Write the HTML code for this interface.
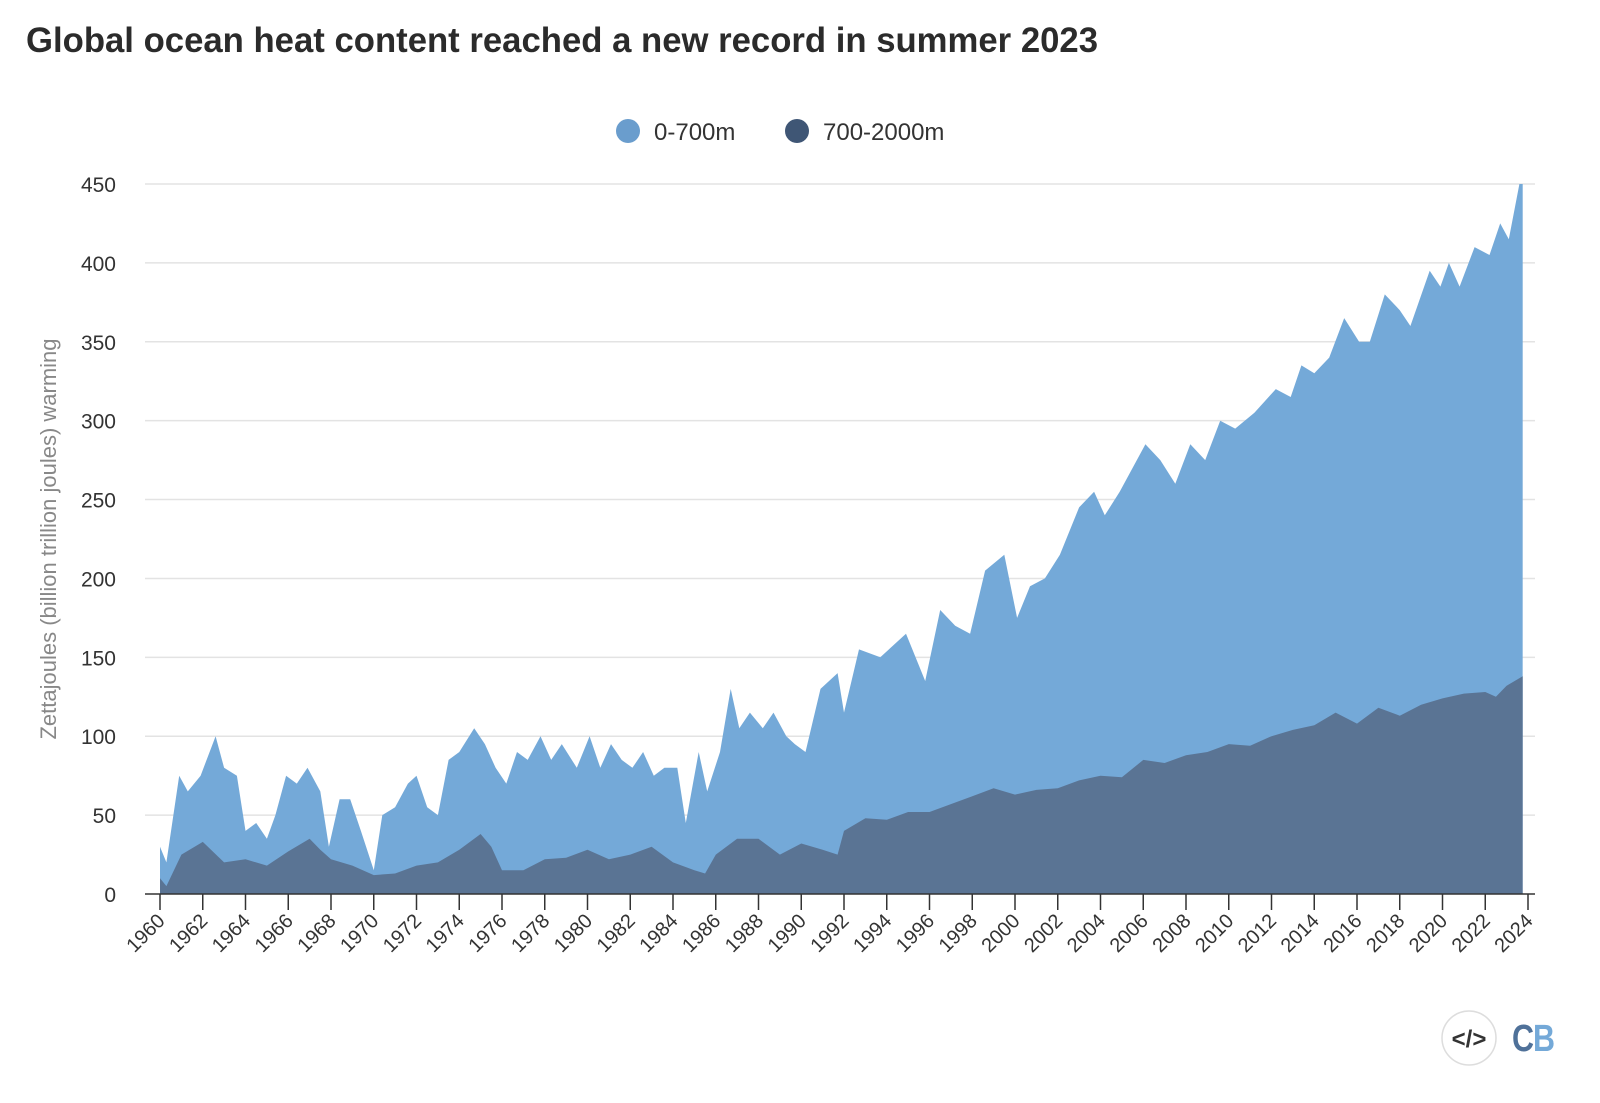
<!DOCTYPE html>
<html><head><meta charset="utf-8"><style>
html,body{margin:0;padding:0;background:#fff;width:1600px;height:1103px;overflow:hidden;font-family:"Liberation Sans",sans-serif;}
</style></head><body>
<svg id="chart" width="1600" height="1103" xmlns="http://www.w3.org/2000/svg">
<text x="26" y="52" font-size="35" font-weight="bold" fill="#2b2b2b" textLength="1072" lengthAdjust="spacingAndGlyphs">Global ocean heat content reached a new record in summer 2023</text>
<g>
<g><circle cx="628" cy="131" r="12" fill="#6a9dcd"/><text x="654" y="140" font-size="24" fill="#333">0-700m</text></g>
<g><circle cx="797" cy="131" r="12" fill="#3f5675"/><text x="823" y="140" font-size="24" fill="#333">700-2000m</text></g>
</g>
<g id="grid"></g>
<g id="areas"></g>
<g id="yticks"></g>
<g id="xticks"></g>
<text transform="translate(56,539) rotate(-90)" text-anchor="middle" font-size="22" fill="#888">Zettajoules (billion trillion joules) warming</text>
<g><circle cx="1469" cy="1038" r="27" fill="#fff" stroke="#ddd" stroke-width="1.5"/><text x="1469" y="1047" text-anchor="middle" font-size="24" font-weight="bold" fill="#333">&lt;/&gt;</text></g>
<g><text x="1512" y="1051" font-size="38" font-weight="bold" fill="#4f7199" textLength="22" lengthAdjust="spacingAndGlyphs">C</text><text x="1533" y="1051" font-size="38" font-weight="bold" fill="#74a9d8" textLength="22" lengthAdjust="spacingAndGlyphs">B</text></g>
</svg>
<script>
const totalYears=[1960,1960.3,1960.9,1961.3,1961.9,1962.6,1963,1963.6,1964,1964.5,1965,1965.4,1965.9,1966.4,1966.9,1967.5,1967.9,1968.4,1968.9,1969.4,1970,1970.4,1971,1971.6,1972,1972.5,1973,1973.5,1974,1974.7,1975.2,1975.7,1976.2,1976.7,1977.2,1977.8,1978.3,1978.8,1979.5,1980.1,1980.6,1981.1,1981.6,1982.1,1982.6,1983.1,1983.6,1984.2,1984.6,1985.2,1985.6,1986.2,1986.7,1987.1,1987.6,1988.2,1988.7,1989.3,1989.7,1990.2,1990.9,1991.7,1992,1992.7,1993.7,1994.9,1995.8,1996.5,1997.2,1997.9,1998.6,1999.5,2000.1,2000.7,2001.4,2002.1,2003,2003.7,2004.2,2004.9,2006.1,2006.8,2007.5,2008.2,2008.9,2009.6,2010.3,2011.2,2012.2,2012.9,2013.4,2014,2014.7,2015.4,2016.1,2016.6,2017.3,2018,2018.5,2019.4,2019.9,2020.3,2020.8,2021.5,2022.2,2022.7,2023.1,2023.6,2023.75];
const totalValues=[30,20,75,65,75,100,80,75,40,45,35,50,75,70,80,65,30,60,60,40,15,50,55,70,75,55,50,85,90,105,95,80,70,90,85,100,85,95,80,100,80,95,85,80,90,75,80,80,45,90,65,90,130,105,115,105,115,100,95,90,130,140,115,155,150,165,135,180,170,165,205,215,175,195,200,215,245,255,240,255,285,275,260,285,275,300,295,305,320,315,335,330,340,365,350,350,380,370,360,395,385,400,385,410,405,425,415,450,450];
const deepYears=[1960,1960.3,1961,1962,1963,1964,1965,1966,1967,1967.5,1968,1969,1970,1971,1972,1973,1974,1975,1975.5,1976,1977,1978,1979,1980,1981,1982,1983,1984,1985,1985.5,1986,1987,1988,1989,1990,1991,1991.7,1992,1993,1994,1995,1996,1997,1998,1999,2000,2001,2002,2003,2004,2005,2006,2007,2008,2009,2010,2011,2012,2013,2014,2015,2016,2017,2018,2019,2020,2021,2022,2022.5,2023,2023.75];
const deepValues=[10,5,25,33,20,22,18,27,35,28,22,18,12,13,18,20,28,38,30,15,15,22,23,28,22,25,30,20,15,13,25,35,35,25,32,28,25,40,48,47,52,52,57,62,67,63,66,67,72,75,74,85,83,88,90,95,94,100,104,107,115,108,118,113,120,124,127,128,125,132,138];
const yTicks=[0,50,100,150,200,250,300,350,400,450];
const xTickYears=[1960,1962,1964,1966,1968,1970,1972,1974,1976,1978,1980,1982,1984,1986,1988,1990,1992,1994,1996,1998,2000,2002,2004,2006,2008,2010,2012,2014,2016,2018,2020,2022,2024];

const NS='http://www.w3.org/2000/svg';
const X0=160,X1=1528,Y0=894,Y1=184;
const xs=y=>X0+(y-1960)/(2024-1960)*(X1-X0);
const ys=v=>Y0-v/450*(Y0-Y1);
function mk(t,parent){const e=document.createElementNS(NS,t);parent.appendChild(e);return e;}
const grid=document.getElementById('grid'),areas=document.getElementById('areas'),yt=document.getElementById('yticks'),xt=document.getElementById('xticks');
yTicks.forEach(v=>{
  if(v>0){const l=mk('line',grid);
  
  
  l.setAttribute('x1',145);l.setAttribute('x2',1535);l.setAttribute('y1',ys(v));l.setAttribute('y2',ys(v));l.setAttribute('stroke','#e3e3e3');l.setAttribute('stroke-width','1.5');}
  const t=mk('text',yt);
  
  
  t.setAttribute('x',116);t.setAttribute('y',ys(v)+8);t.setAttribute('text-anchor','end');t.setAttribute('font-size','21');t.setAttribute('fill','#333');t.textContent=v;
});
function area(yrs,vals,color,name){
  let d='M'+xs(yrs[0])+','+ys(0);
  yrs.forEach((y,i)=>{d+='L'+xs(y).toFixed(1)+','+ys(vals[i]).toFixed(1);});
  d+='L'+xs(yrs[yrs.length-1])+','+ys(0)+'Z';
  const p=mk('path',areas);
  
  
  p.setAttribute('d',d);p.setAttribute('fill',color);
}
area(totalYears,totalValues,'#74a9d8','area-0-700m');
area(deepYears,deepValues,'#5a7494','area-700-2000m');
const ax=mk('line',xt);


ax.setAttribute('x1',145);ax.setAttribute('x2',1535);ax.setAttribute('y1',Y0);ax.setAttribute('y2',Y0);ax.setAttribute('stroke','#333');ax.setAttribute('stroke-width','1.5');
xTickYears.forEach(y=>{
  const l=mk('line',xt);
  
  
  l.setAttribute('x1',xs(y));l.setAttribute('x2',xs(y));l.setAttribute('y1',Y0);l.setAttribute('y2',Y0+16);l.setAttribute('stroke','#333');l.setAttribute('stroke-width','1.5');
  const t=mk('text',xt);
  
  
  const tx=xs(y)+6,ty=Y0+28;
  t.setAttribute('transform','translate('+tx+','+ty+') rotate(-45)');t.setAttribute('text-anchor','end');t.setAttribute('font-size','20');t.setAttribute('fill','#333');t.textContent=y;
});
</script>
</body></html>
